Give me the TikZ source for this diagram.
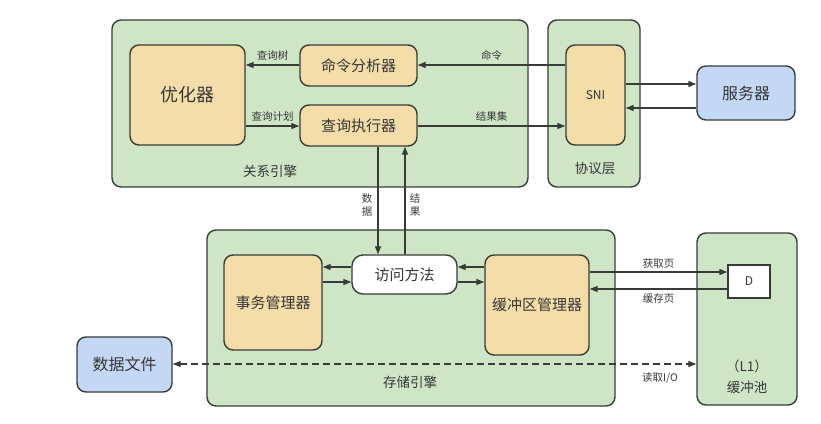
\documentclass[tikz,border=0pt]{standalone}
\usepackage{fontspec}
\setmainfont{Noto Sans CJK SC}
\usetikzlibrary{arrows.meta}
\definecolor{gfill}{RGB}{206,230,198}
\definecolor{ofill}{RGB}{244,221,168}
\definecolor{bfill}{RGB}{196,216,246}
\definecolor{edge}{RGB}{55,60,55}
\definecolor{txt}{RGB}{55,55,55}
\tikzset{
  x=1pt,y=-1pt,
  box/.style={draw=edge,line width=1.4pt,rounded corners=9pt,inner sep=0pt,text=txt},
  group/.style={box,fill=gfill},
  comp/.style={box,fill=ofill,font=\fontsize{15}{17}\selectfont},
  ext/.style={box,fill=bfill,font=\fontsize{16}{18}\selectfont},
  lab/.style={text=txt,font=\fontsize{13.5}{15}\selectfont},
  small/.style={text=txt,font=\fontsize{10.5}{12}\selectfont,inner sep=1pt},
  arr/.style={draw=edge,line width=1.3pt,-{Triangle[length=8pt,width=6pt]}},
}
\begin{document}
\begin{tikzpicture}
\useasboundingbox (0,0) rectangle (821,423);
% groups
\node[group,minimum width=416pt,minimum height=167pt] (rel) at (320,103.5) {};
\node[group,minimum width=92pt,minimum height=167pt] (proto) at (594,103.5) {};
\node[group,minimum width=408pt,minimum height=176pt] (store) at (411,318) {};
\node[group,minimum width=100pt,minimum height=172pt] (pool) at (747,319) {};
\node[lab] (rellab) at (270,171) {关系引擎};
\node[lab] (protolab) at (595,168) {协议层};
\node[lab] (storelab) at (410,382) {存储引擎};
\node[lab] (poollab1) at (747,366) {（L1）};
\node[lab] (poollab2) at (747,387) {缓冲池};
% components
\node[comp,minimum width=115pt,minimum height=100pt,font=\fontsize{18}{20}\selectfont] (opt) at (187.5,95) {优化器};
\node[comp,minimum width=117pt,minimum height=41pt] (cmd) at (358.5,65.5) {命令分析器};
\node[comp,minimum width=117pt,minimum height=41pt] (exe) at (358.5,125.5) {查询执行器};
\node[comp,minimum width=59pt,minimum height=100pt,font=\fontsize{12}{14}\selectfont] (sni) at (595.5,95) {SNI};
\node[ext,minimum width=98pt,minimum height=54pt] (srv) at (746,93) {服务器};
\node[comp,minimum width=98pt,minimum height=95pt] (txn) at (273,302.5) {事务管理器};
\node[box,fill=white,rounded corners=11pt,minimum width=105pt,minimum height=39pt,font=\fontsize{15}{17}\selectfont] (acc) at (404.5,274.5) {访问方法};
\node[comp,minimum width=104pt,minimum height=100pt] (buf) at (537,305) {缓冲区管理器};
\node[box,fill=white,rounded corners=0pt,minimum width=42pt,minimum height=33pt,font=\fontsize{12}{14}\selectfont] (D) at (749,281.5) {D};
\node[ext,minimum width=95pt,minimum height=55pt] (file) at (124.5,364.5) {数据文件};
% coordinates
\coordinate (c65) at (0,65);
\coordinate (c126) at (0,126);
\coordinate (c84) at (0,84);
\coordinate (c108) at (0,108);
\coordinate (c267) at (0,267);
\coordinate (c282) at (0,282);
\coordinate (c272) at (0,272);
\coordinate (c289) at (0,289);
\coordinate (c364) at (0,364);
\coordinate (x378) at (378,0);
\coordinate (x405) at (405,0);
% connectors
\draw[arr] (sni.west |- c65) -- (cmd.east |- c65) node[small,midway,above=3pt] {命令};
\draw[arr] (exe.east |- c126) -- (sni.west |- c126) node[small,midway,above=3pt] {结果集};
\draw[arr] (cmd.west |- c65) -- (opt.east |- c65) node[small,midway,above=3pt] {查询树};
\draw[arr] (opt.east |- c126) -- (exe.west |- c126) node[small,midway,above=3pt] {查询计划};
\draw[arr] (sni.east |- c84) -- (srv.west |- c84);
\draw[arr] (srv.west |- c108) -- (sni.east |- c108);
\draw[arr] (exe.south -| x378) -- (acc.north -| x378);
\draw[arr] (acc.north -| x405) -- (exe.south -| x405);
\node[small,align=center,font=\fontsize{10.5}{13}\selectfont] (datalab) at (367,205) {数\\据};
\node[small,align=center,font=\fontsize{10.5}{13}\selectfont] (reslab) at (415,205) {结\\果};
\draw[arr] (acc.west |- c267) -- (txn.east |- c267);
\draw[arr] (txn.east |- c282) -- (acc.west |- c282);
\draw[arr] (buf.west |- c267) -- (acc.east |- c267);
\draw[arr] (acc.east |- c282) -- (buf.west |- c282);
\draw[arr] (buf.east |- c272) -- (D.west |- c272) node[small,midway,above=2pt] {获取页};
\draw[arr] (D.west |- c289) -- (buf.east |- c289) node[small,midway,below=3pt] {缓存页};
\draw[arr,dashed,dash pattern=on 7pt off 4pt,{Triangle[length=8pt,width=6pt]}-{Triangle[length=8pt,width=6pt]}] (file.east |- c364) -- (pool.west |- c364);
\node[small] (iolab) at (660,378) {读取I/O};
\end{tikzpicture}
\end{document}
